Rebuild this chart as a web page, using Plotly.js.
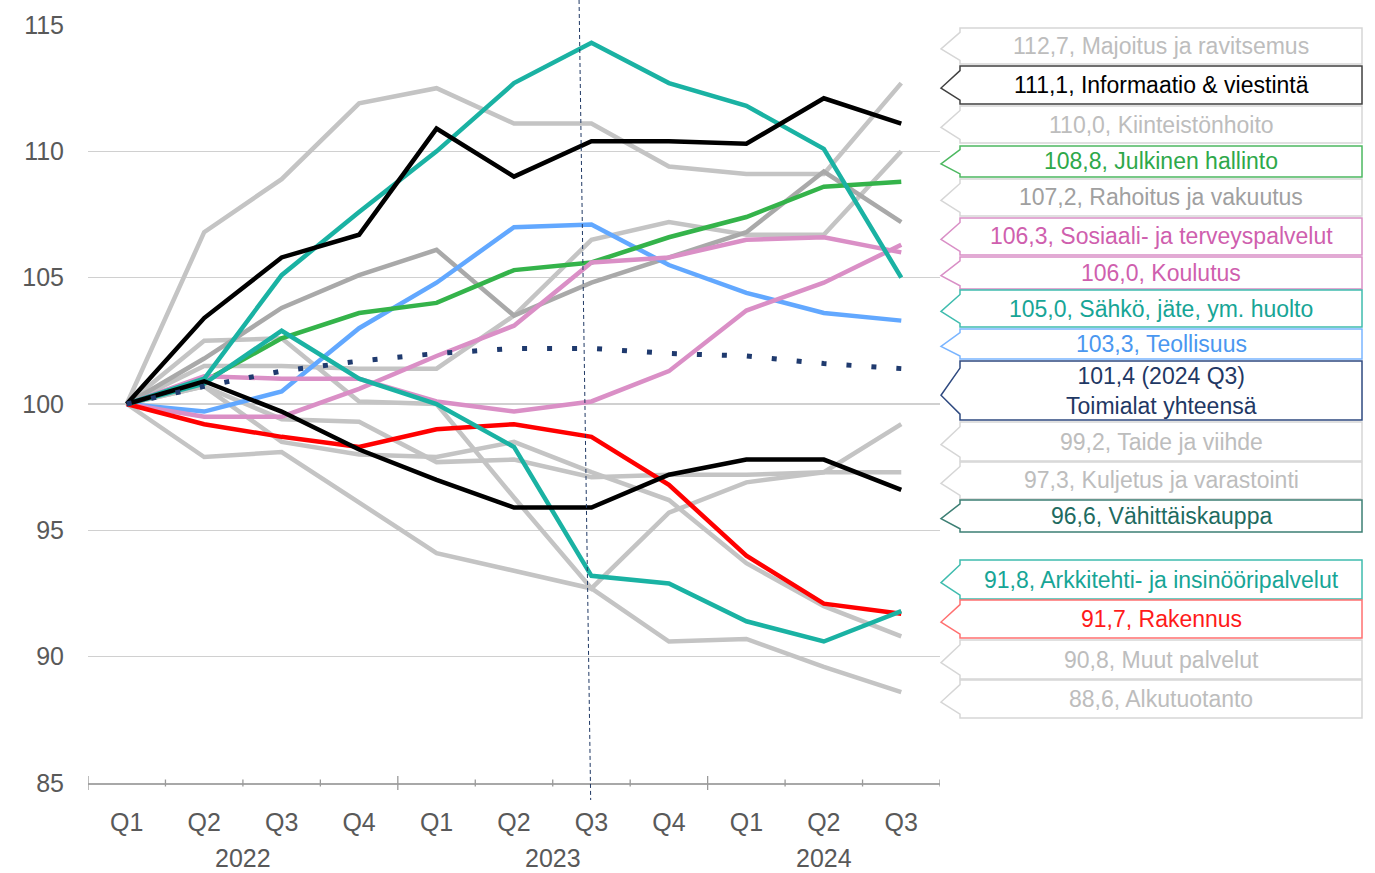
<!DOCTYPE html>
<html>
<head>
<meta charset="utf-8">
<script src="https://cdn.plot.ly/plotly-3.0.1.min.js"></script>
<style>
html,body{margin:0;padding:0;background:#fff;}
#chart{width:1375px;height:873px;}
</style>
</head>
<body>
<div id="chart"></div>
<script>
// ---- Data ----
const quarters = ['Q1','Q2','Q3','Q4','Q1','Q2','Q3','Q4','Q1','Q2','Q3'];
const years = ['2022','2023','2024'];
const yearCenters = [1.5, 5.5, 9];

const majoitus     = [100, 106.8, 108.9, 111.9, 112.5, 111.1, 111.1, 109.4, 109.1, 109.1, 112.7];
const informaatio  = [100, 103.4, 105.8, 106.7, 110.9, 109.0, 110.4, 110.4, 110.3, 112.1, 111.1];
const kiinteisto   = [100, 101.5, 101.5, 101.4, 101.4, 103.5, 106.5, 107.2, 106.7, 106.7, 110.0];
const julkinen     = [100, 100.9, 102.6, 103.6, 104.0, 105.3, 105.6, 106.6, 107.4, 108.6, 108.8];
const rahoitus     = [100, 101.8, 103.8, 105.1, 106.1, 103.5, 104.8, 105.8, 106.8, 109.2, 107.2];
const sosiaali     = [100, 101.1, 101.0, 101.0, 100.1, 99.7, 100.1, 101.3, 103.7, 104.8, 106.3];
const koulutus     = [100, 99.5, 99.5, 100.6, 101.9, 103.1, 105.6, 105.8, 106.5, 106.6, 106.0];
const sahko        = [100, 101.0, 105.1, 107.6, 110.0, 112.7, 114.3, 112.7, 111.8, 110.1, 105.0];
const teollisuus   = [100, 99.7, 100.5, 103.0, 104.8, 107.0, 107.1, 105.5, 104.4, 103.6, 103.3];
const toimialat    = [100, 100.7, 101.3, 101.7, 102.0, 102.2, 102.2, 102.0, 101.9, 101.6, 101.4];
const taide        = [100, 102.5, 102.6, 100.1, 100.0, 96.3, 92.7, 95.7, 96.9, 97.3, 99.2];
const kuljetus     = [100, 100.7, 99.4, 99.3, 97.7, 97.8, 97.1, 97.2, 97.2, 97.3, 97.3];
const vahittais    = [100, 100.9, 99.7, 98.2, 97.0, 95.9, 95.9, 97.2, 97.8, 97.8, 96.6];
const arkkitehti   = [100, 100.8, 102.9, 101.0, 100.0, 98.3, 93.2, 92.9, 91.4, 90.6, 91.8];
const rakennus     = [100, 99.2, 98.7, 98.3, 99.0, 99.2, 98.7, 96.8, 94.0, 92.1, 91.7];
const muut         = [100, 100.7, 98.5, 98.0, 97.9, 98.5, 97.3, 96.2, 93.7, 92.0, 90.8];
const alkutuotanto = [100, 97.9, 98.1, 96.1, 94.1, 93.4, 92.7, 90.6, 90.7, 89.6, 88.6];

// ---- Styling ----
const GREY = '#c4c4c4', GREY2 = '#a9a9a9', TEAL = '#1ab2a3', GREEN = '#34b34a',
      BLUE = '#62a8ff', PINK = '#da8fc6', RED = '#ff0000', BLACK = '#000000', NAVY = '#1f3a6e';

// draw order: greys first, colored, dotted on top
const series = [
  {name:'Majoitus ja ravitsemus', y:majoitus, color:GREY},
  {name:'Kiinteistönhoito', y:kiinteisto, color:GREY},
  {name:'Taide ja viihde', y:taide, color:GREY},
  {name:'Kuljetus ja varastointi', y:kuljetus, color:GREY},
  {name:'Muut palvelut', y:muut, color:GREY},
  {name:'Alkutuotanto', y:alkutuotanto, color:GREY},
  {name:'Rahoitus ja vakuutus', y:rahoitus, color:GREY2},
  {name:'Teollisuus', y:teollisuus, color:BLUE},
  {name:'Julkinen hallinto', y:julkinen, color:GREEN},
  {name:'Sosiaali- ja terveyspalvelut', y:sosiaali, color:PINK},
  {name:'Koulutus', y:koulutus, color:PINK},
  {name:'Rakennus', y:rakennus, color:RED},
  {name:'Arkkitehti- ja insinööripalvelut', y:arkkitehti, color:TEAL},
  {name:'Sähkö, jäte, ym. huolto', y:sahko, color:TEAL},
  {name:'Vähittäiskauppa', y:vahittais, color:BLACK},
  {name:'Informaatio & viestintä', y:informaatio, color:BLACK},
];

const xIdx = quarters.map((q,i)=>i);
const traces = series.map(s => ({
  type:'scatter', mode:'lines', x:xIdx, y:s.y, name:s.name,
  line:{color:s.color, width:4.5}, hoverinfo:'skip'
}));
traces.push({
  type:'scatter', mode:'lines', x:xIdx, y:toimialat, name:'Toimialat yhteensä',
  line:{color:NAVY, width:5, dash:'5px,20px'}, hoverinfo:'skip'
});

// ---- Right-hand callout labels (order top to bottom) ----
const fmt = v => v.toFixed(1).replace('.', ',');
const labels = [
  {text: fmt(majoitus[10]) + ', Majoitus ja ravitsemus', tc:'#bdbdbd', bc:'#d6d6d6'},
  {text: fmt(informaatio[10]) + ', Informaatio & viestintä', tc:'#000000', bc:'#404040'},
  {text: fmt(kiinteisto[10]) + ', Kiinteistönhoito', tc:'#bdbdbd', bc:'#d6d6d6'},
  {text: fmt(julkinen[10]) + ', Julkinen hallinto', tc:'#2ea84a', bc:'#4cb860'},
  {text: fmt(rahoitus[10]) + ', Rahoitus ja vakuutus', tc:'#a0a0a0', bc:'#d6d6d6'},
  {text: fmt(sosiaali[10]) + ', Sosiaali- ja terveyspalvelut', tc:'#cf5fae', bc:'#d98fc6'},
  {text: fmt(koulutus[10]) + ', Koulutus', tc:'#cf5fae', bc:'#d98fc6'},
  {text: fmt(sahko[10]) + ', Sähkö, jäte, ym. huolto', tc:'#17a596', bc:'#3fbcae'},
  {text: fmt(teollisuus[10]) + ', Teollisuus', tc:'#4a97f0', bc:'#7ab5ff'},
  {text: fmt(toimialat[10]) + ' (2024 Q3)<br>Toimialat yhteensä', tc:'#1f3864', bc:'#2f4a80'},
  {text: fmt(taide[10]) + ', Taide ja viihde', tc:'#bdbdbd', bc:'#d6d6d6'},
  {text: fmt(kuljetus[10]) + ', Kuljetus ja varastointi', tc:'#bdbdbd', bc:'#d6d6d6'},
  {text: fmt(vahittais[10]) + ', Vähittäiskauppa', tc:'#1e6b5f', bc:'#3d7f74'},
  {text: fmt(arkkitehti[10]) + ', Arkkitehti- ja insinööripalvelut', tc:'#17a596', bc:'#3fbcae'},
  {text: fmt(rakennus[10]) + ', Rakennus', tc:'#ff1a1a', bc:'#ff7070'},
  {text: fmt(muut[10]) + ', Muut palvelut', tc:'#bdbdbd', bc:'#d6d6d6'},
  {text: fmt(alkutuotanto[10]) + ', Alkutuotanto', tc:'#bdbdbd', bc:'#d6d6d6'},
];
// layout: box [top, bottom] in pixels
const boxPos = [[28,64],[66,104],[106,143],[146,177],[179,216],[218,255],[257,289],[290,327],[329,359],[361,420],
                [422,461],[462,499],[500,532],[560,599],[600,638],[640,679],[680,718]];

// ---- Layout helpers (pixels -> paper) ----
const L=88, R=940, T=25, B=783;
const px = x => (x-L)/(R-L);
const py = y => (B-y)/(B-T);

const shapes = [];
const annotations = [];
const BX0 = 960, BX1 = 1362, TIPX = 941;
labels.forEach((lb,i) => {
  const [t,b] = boxPos[i];
  const h = b - t;
  const a = t + 0.12*h, tip = t + 0.58*h, c = t + 0.9*h;
  const pts = [[BX0,t],[BX1,t],[BX1,b],[BX0,b],[BX0,c],[TIPX,tip],[BX0,a]];
  const path = 'M ' + pts.map(p => px(p[0]).toFixed(5)+','+py(p[1]).toFixed(5)).join(' L ') + ' Z';
  shapes.push({type:'path', xref:'paper', yref:'paper', path:path,
               line:{color:lb.bc, width:1.5}, fillcolor:'#ffffff', layer:'above'});
  annotations.push({xref:'paper', yref:'paper', x:px((BX0+BX1)/2), y:py((t+b)/2),
    xanchor:'center', yanchor:'middle', showarrow:false, text:lb.text,
    font:{family:'Liberation Sans, Arial, sans-serif', size:23, color:lb.tc}});
});

// category boundary ticks
for (let k=0; k<=11; k++) {
  const bx = k - 0.5;
  const major = (k===0 || k===4 || k===8);
  shapes.push({type:'line', xref:'x', yref:'paper', x0:bx, x1:bx,
    y0:py(major?790:786.5), y1:py(major?776:779.5), line:{color:'#9a9a9a', width:1.3}, layer:'above'});
}
// vertical dashed marker line
shapes.push({type:'line', xref:'x', yref:'paper', x0:5.84, x1:5.99, y0:py(0), y1:py(800),
  line:{color:'#1f3864', width:1, dash:'4px,3px'}, layer:'above'});

// year labels
years.forEach((yr,i) => annotations.push({xref:'x', yref:'paper', x:yearCenters[i], y:py(858),
  xanchor:'center', yanchor:'middle', showarrow:false, text:yr,
  font:{family:'Liberation Sans, Arial, sans-serif', size:25, color:'#595959'}}));

const layout = {
  width:1375, height:873,
  margin:{l:L, r:1375-R, t:T, b:873-B, pad:0},
  paper_bgcolor:'#ffffff', plot_bgcolor:'#ffffff',
  showlegend:false,
  font:{family:'Liberation Sans, Arial, sans-serif', size:25, color:'#595959'},
  xaxis:{range:[-0.5,10.5], tickmode:'array', tickvals:xIdx, ticktext:quarters,
    ticks:'outside', ticklen:16, tickcolor:'rgba(0,0,0,0)', showgrid:false, zeroline:false,
    showline:true, linecolor:'#a8a8a8', linewidth:1.5, fixedrange:true,
    tickfont:{size:25, color:'#595959'}},
  yaxis:{range:[85,115], tickmode:'array', tickvals:[85,90,95,100,105,110,115],
    ticks:'outside', ticklen:18, tickcolor:'rgba(0,0,0,0)', showgrid:true,
    gridcolor:'#d0d0d0', gridwidth:1.5, zeroline:false, showline:false, fixedrange:true,
    tickfont:{size:25, color:'#595959'}},
  shapes:shapes,
  annotations:annotations
};

Plotly.newPlot('chart', traces, layout, {displayModeBar:false, staticPlot:true});
</script>
</body>
</html>
